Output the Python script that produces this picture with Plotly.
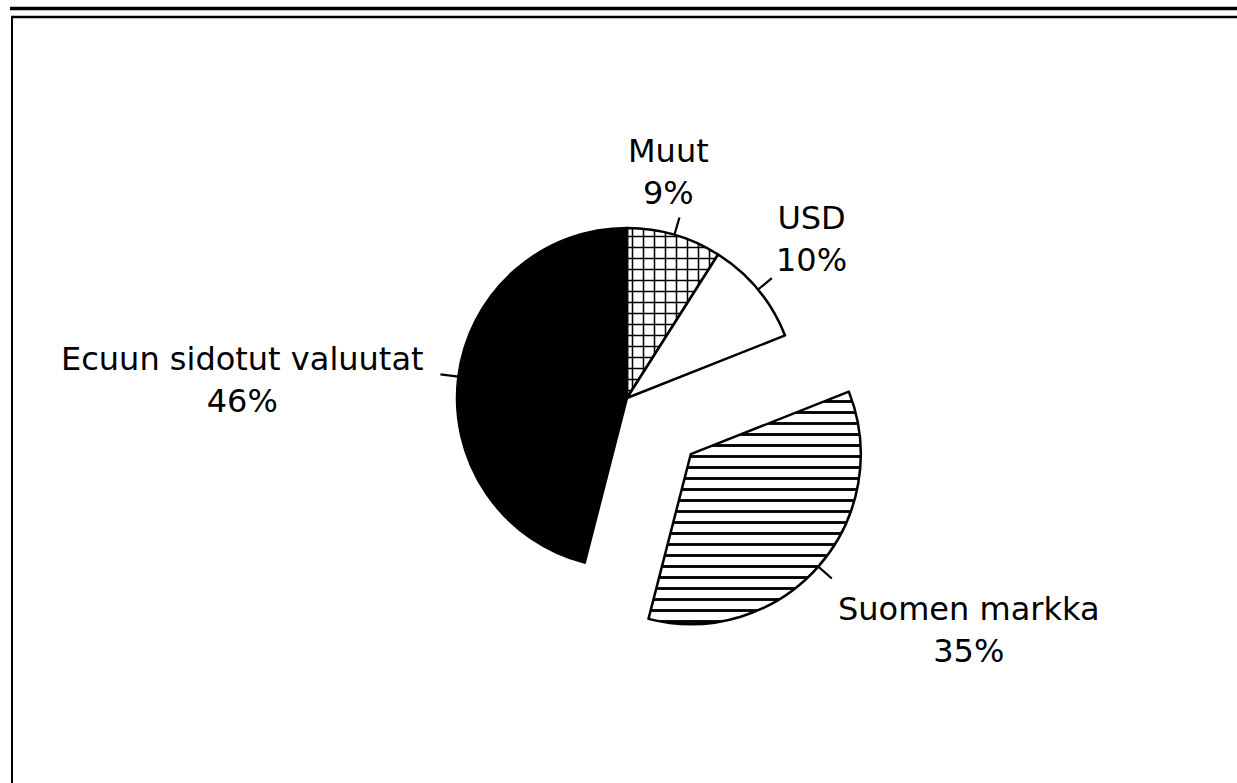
import math
import plotly.graph_objects as go

# ---- data ----
labels = ["Muut", "USD", "Suomen markka", "Ecuun sidotut valuutat"]
values = [9, 10, 35, 46]
pct_text = ["9%", "10%", "35%", "46%"]
pulls = [0, 0, 0.5, 0]
fill_colors = ["white", "white", "white", "black"]
patterns = ["+", "", "-", ""]

# ---- layout constants (pixels) ----
W, H = 1237, 783
CX, CY, R = 627, 398, 170
FONT = "DejaVu Sans"
FS = 32
label_pos = [(668, 172), (811, 239), (969, 630), (242, 380)]
LEAD = 18


def px(x):
    return x / W


def py(y):
    return 1 - y / H


maxpull = max(pulls)
half = R * (1 + maxpull)

fig = go.Figure(go.Pie(
    labels=labels,
    values=values,
    sort=False,
    direction="clockwise",
    rotation=0,
    pull=pulls,
    textinfo="none",
    hoverinfo="label+percent",
    showlegend=False,
    marker=dict(
        colors=fill_colors,
        line=dict(color="black", width=2.5),
        pattern=dict(shape=patterns, fgcolor="black", size=11, solidity=0.26),
    ),
    domain=dict(x=[px(CX - half), px(CX + half)], y=[py(CY + half), py(CY - half)]),
))

# leader lines computed from slice mid-angles
shapes = []
total = sum(values)
cum = 0
for v, p in zip(values, pulls):
    mid = (cum + v / 2) / total * 2 * math.pi
    cum += v
    dx, dy = math.sin(mid), -math.cos(mid)
    ox, oy = CX + p * R * dx, CY + p * R * dy
    x0, y0 = ox + R * dx, oy + R * dy
    x1, y1 = ox + (R + LEAD) * dx, oy + (R + LEAD) * dy
    shapes.append(dict(type="line", xref="paper", yref="paper",
                       x0=px(x0), y0=py(y0), x1=px(x1), y1=py(y1),
                       line=dict(color="black", width=2.2)))

# frame lines
shapes.append(dict(type="line", xref="paper", yref="paper", x0=px(10), x1=1.01,
                   y0=py(8.5), y1=py(8.5), line=dict(color="black", width=3.5)))
shapes.append(dict(type="line", xref="paper", yref="paper", x0=px(11), x1=1.01,
                   y0=py(17), y1=py(17), line=dict(color="black", width=2.5)))
shapes.append(dict(type="line", xref="paper", yref="paper", x0=px(12), x1=px(12),
                   y0=py(16), y1=-0.01, line=dict(color="black", width=2)))

annotations = []
for lab, pt, (lx, ly) in zip(labels, pct_text, label_pos):
    annotations.append(dict(x=px(lx), y=py(ly), xref="paper", yref="paper",
                            text=f"{lab}<br>{pt}", showarrow=False,
                            xanchor="center", yanchor="middle", align="center",
                            font=dict(family=FONT, size=FS, color="black")))

fig.update_layout(
    width=W, height=H,
    margin=dict(l=0, r=0, t=0, b=0),
    paper_bgcolor="white", plot_bgcolor="white",
    shapes=shapes, annotations=annotations,
)

fig.write_html("out.html", config={"displayModeBar": False},
               post_script="document.body.style.margin='0';document.body.style.overflow='hidden';")
